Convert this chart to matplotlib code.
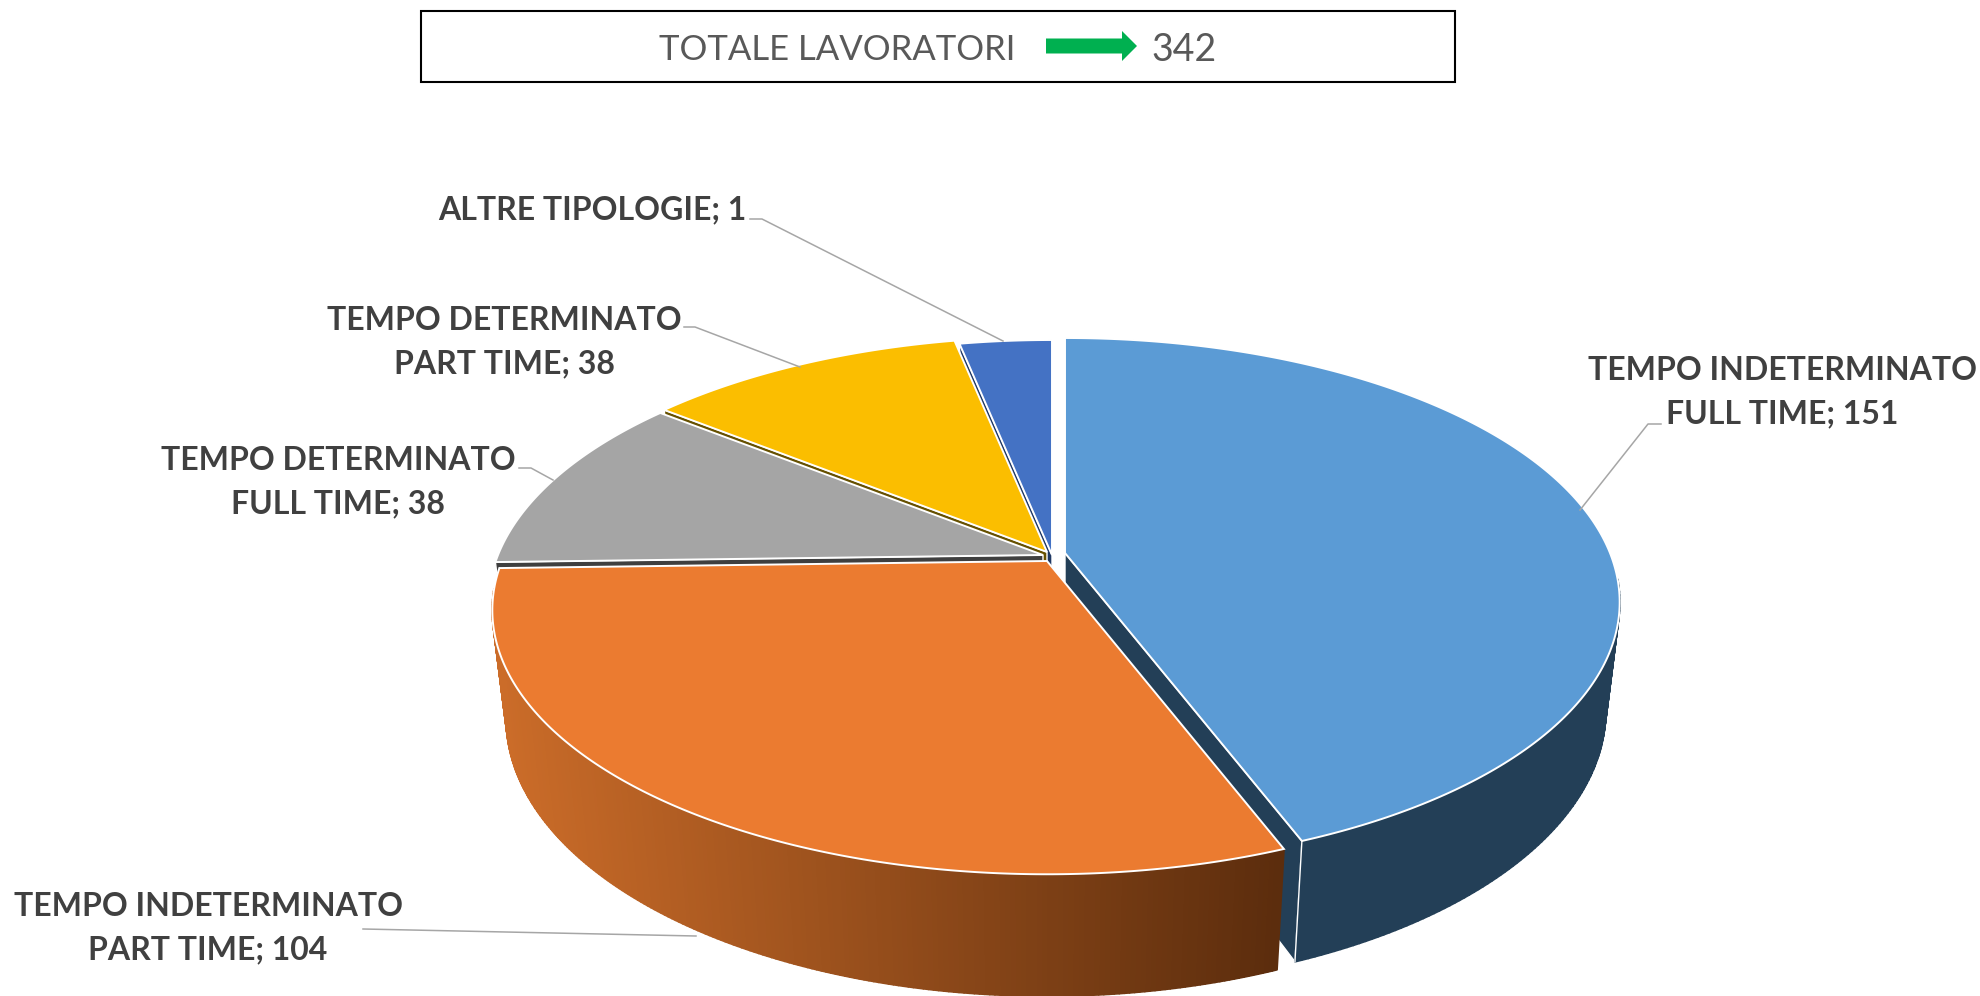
"""Exploded 3D-looking pie of the workers by contract type."""

import matplotlib

matplotlib.use("Agg")
import matplotlib.pyplot as plt  # noqa: E402
import numpy as np  # noqa: E402
from matplotlib.collections import PolyCollection  # noqa: E402
from matplotlib.colors import LinearSegmentedColormap  # noqa: E402
from matplotlib.patches import Polygon, Rectangle  # noqa: E402

plt.rcParams["font.family"] = ["Lato", "DejaVu Sans"]

# Slices clockwise from 12 o'clock. The last label reads "1" in the source,
# but its slice only fits the total of 342 with a value of 11.
slice_values = [151, 104, 38, 38, 11]
total_workers = 342
slice_labels = [
    "TEMPO INDETERMINATO\nFULL TIME; 151",
    "TEMPO INDETERMINATO\nPART TIME; 104",
    "TEMPO DETERMINATO\nFULL TIME; 38",
    "TEMPO DETERMINATO\nPART TIME; 38",
    "ALTRE TIPOLOGIE; 1",
]

top_colors = ["#5B9BD5", "#EB7B30", "#A5A5A5", "#FBBE00", "#4472C4"]
cut_colors = ["#233F57", "#233F57", "#3F3F3F", "#665000", "#1F3864"]

# Apex of every exploded slice, in pixels
apex_x = [1065, 1047, 1043, 1047, 1052]
apex_y = [553, 561, 555, 552, 555]

# Where the label centres sit and how the leader lines run
label_x = [1782, 208, 338, 504, 592]
label_y = [392, 928, 482, 342, 210]
leader_x = [[1661, 1648, 1580], [363, 696], [519, 531, 553], [684, 695, 800], [750, 762, 1003]]
leader_y = [[424, 424, 510], [929, 936], [468, 468, 480], [327, 327, 367], [219, 219, 341]]

# Perspective of the disc
RX, RY, PERSP = 545.0, 255.0, 0.186
DEPTH, THICK = 0.025, 110.0


def project(i, angle, r=1.0, bottom=False):
    """Screen position of a point on the disc of slice i (angle clockwise from top)."""
    px = r * np.sin(angle)
    py = r * np.cos(angle)
    w = 1 + PERSP * py + (DEPTH if bottom else 0.0)
    drop = THICK if bottom else 0.0
    return apex_x[i] + RX * px / w, apex_y[i] + (drop - RY * py) / w


def add_cut_face(i, angle, z):
    """Flat radial face of slice i, seen through the gap to its neighbour."""
    corners = [
        project(i, angle, r=0.0),
        project(i, angle),
        project(i, angle, bottom=True),
        project(i, angle, r=0.0, bottom=True),
    ]
    ax.add_patch(Polygon(corners, facecolor=cut_colors[i], edgecolor="white", lw=1.0, zorder=z))


fig = plt.figure(figsize=(19.8, 9.96), dpi=100)
ax = fig.add_axes([0, 0, 1, 1])

edges = np.radians(np.cumsum([0] + slice_values) / total_workers * 360.0)
shade = LinearSegmentedColormap.from_list("wall", ["#CB6C29", "#5C2D0D"])

# Back to front, so every slice hides what lies behind it
z = 2
for i in [4, 3, 2, 0, 1]:
    angles = np.linspace(edges[i], edges[i + 1], 240)
    top_x, top_y = project(i, angles)

    # Blue shows its closing face, the slices at the back their opening one
    if i == 0:
        add_cut_face(i, edges[i + 1], z)
    elif i != 1:
        add_cut_face(i, edges[i], z)
    z += 1

    # Only the two front slices show an outer wall, on the near half of the disc
    if i in (0, 1):
        front = angles[np.cos(angles) < -0.1]
        wall_x, wall_y = project(i, front)
        bot_x, bot_y = project(i, front, bottom=True)
        quads = [
            [(wall_x[k], wall_y[k]), (wall_x[k + 1], wall_y[k + 1]), (bot_x[k + 1], bot_y[k + 1]), (bot_x[k], bot_y[k])]
            for k in range(len(front) - 1)
        ]
        if i == 1:
            t = (wall_x[:-1] - 495) / (1283 - 495)
            wall_colors = shade(np.clip(t, 0, 1))
        else:
            wall_colors = cut_colors[i]
        ax.add_collection(PolyCollection(quads, facecolors=wall_colors, edgecolors="face", lw=1.4, zorder=z))
        end_x, end_y = project(i, edges[i + 1], bottom=True)
        ax.plot([top_x[-1], end_x], [top_y[-1], end_y], color="white", lw=1.0, zorder=z + 0.5)
    z += 1

    # Top face
    a_x, a_y = project(i, edges[i], r=0.0)
    face = np.column_stack([np.r_[a_x, top_x], np.r_[a_y, top_y]])
    ax.add_patch(Polygon(face, facecolor=top_colors[i], edgecolor="white", lw=1.4, zorder=z))
    z += 1

# Leader lines and labels
for i in range(len(slice_values)):
    ax.plot(leader_x[i], leader_y[i], color="#A6A6A6", lw=1.1, zorder=z)
    ax.text(
        label_x[i], label_y[i], slice_labels[i], ha="center", va="center",
        fontsize=23, fontweight="bold", color="#404040", linespacing=1.6, zorder=z + 1,
    )

# Box with the total on top
ax.add_patch(Rectangle((421, 11), 1034, 71, facecolor="white", edgecolor="black", lw=1.5, zorder=z))
ax.text(837, 50, "TOTALE LAVORATORI", ha="center", va="center", fontsize=25, color="#595959", zorder=z + 1)
ax.arrow(
    1046, 46, 91, 0, width=15, head_width=30, head_length=15,
    length_includes_head=True, color="#00B050", lw=0, zorder=z + 1,
)
ax.text(1184, 50, str(total_workers), ha="center", va="center", fontsize=27, color="#595959", zorder=z + 1)

ax.set_xlim(0, 1980)
ax.set_ylim(996, 0)
ax.axis("off")

fig.savefig("out.png", dpi=100)
